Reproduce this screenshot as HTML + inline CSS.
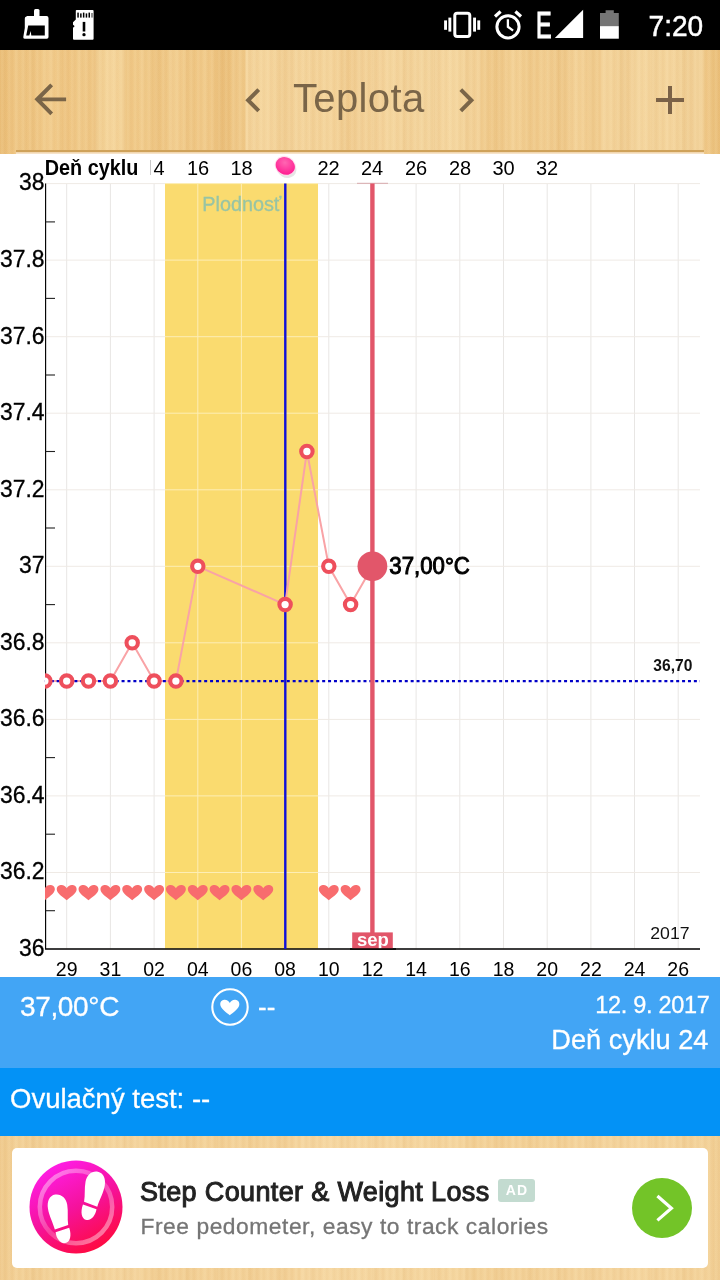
<!DOCTYPE html>
<html lang="sk"><head><meta charset="utf-8"><title>Teplota</title>
<style>
html,body{margin:0;padding:0;}
body{width:720px;height:1280px;position:relative;overflow:hidden;background:#fff;font-family:"Liberation Sans",sans-serif;}
.abs{position:absolute;}
.t{white-space:nowrap;}
.w{-webkit-text-stroke:.3px #fff;}
#status{left:0;top:0;width:720px;height:50px;background:#000;}
.wood{background-color:#f1ca89;background-image:
 repeating-linear-gradient(90deg,rgba(255,240,200,0) 0px,rgba(255,240,200,.13) 2px,rgba(190,135,60,.05) 5px,rgba(255,240,200,0) 7px),
 repeating-linear-gradient(90deg,rgba(200,145,70,.06) 0px,rgba(255,255,255,0) 11px,rgba(255,238,195,.12) 17px,rgba(255,255,255,0) 31px),
 repeating-linear-gradient(90deg,rgba(200,145,70,0) 0px,rgba(200,145,70,.05) 23px,rgba(255,240,200,.08) 41px,rgba(200,145,70,0) 67px),
 linear-gradient(90deg,#ebbe78 0,#eec37f 12px,#f0c785 95px,#f3d093 96px,#f3cf92 125px,#f0c886 126px,#efc582 212px,#ecc07b 228px,#eec37f 245px,#f4d39a 246px,#f3d095 345px,#f2cd91 346px,#f4d49c 420px,#f3d197 480px,#f0c989 481px,#f1cb8d 600px,#f3d197 601px,#f3d299 700px,#edc27e 706px,#eabd76 720px);}
#toolbar{left:0;top:50px;width:720px;height:104px;}
#title{left:0;top:48px;width:717.6px;height:100px;line-height:100px;text-align:center;font-size:40px;letter-spacing:.4px;color:#7a6548;}
#panel1{left:0;top:977px;width:720px;height:91px;background:#42a5f5;color:#fff;}
#panel2{left:0;top:1068px;width:720px;height:68px;background:#0392f6;color:#fff;}
#adwrap{left:0;top:1136px;width:720px;height:144px;background-color:#f3d198;background-image:
 repeating-linear-gradient(90deg,rgba(255,240,200,0) 0px,rgba(255,240,200,.13) 2px,rgba(190,135,60,.05) 5px,rgba(255,240,200,0) 7px),
 repeating-linear-gradient(90deg,rgba(200,145,70,.06) 0px,rgba(255,255,255,0) 11px,rgba(255,238,195,.12) 17px,rgba(255,255,255,0) 31px),
 linear-gradient(90deg,#f1cc90 0,#f2cf96 60px,#f4d39c 140px,#f2ce93 141px,#f3d097 300px,#f5d59f 301px,#f4d39b 470px,#f2ce93 471px,#f3d199 620px,#f5d49d 621px,#f2cf95 720px);}
#card{left:12px;top:1147.6px;width:696px;height:120px;background:#fff;border-radius:5px;}
</style></head><body>
<div id="status" class="abs"></div>
<div id="toolbar" class="abs wood"></div>
<div class="abs" style="left:16px;top:149.5px;width:688px;height:2.2px;background:#cfa25a"></div><div class="abs" style="left:16px;top:151.5px;width:688px;height:2.7px;background:linear-gradient(#efd0a2,#f8e9d6)"></div>
<div id="title" class="abs">Teplota</div>


<svg class="abs" style="left:0;top:0" width="720" height="50" viewBox="0 0 720 50" font-family="Liberation Sans, sans-serif">
<!-- broom -->
<rect x="34" y="9" width="5.5" height="9" rx="1.5" fill="#fff"/>
<path d="M26.5,16 h20 a2,2 0 0 1 2,2 v19.1 a1.7,1.7 0 0 1 -1.7,1.7 h-22 a1.5,1.5 0 0 1 -1.5,-1.8 l1.5,-9 v-9.4 a2,2 0 0 1 2,-2 z" fill="#fff"/>
<path d="M28.2,25.500 H44.800 V35.500 H31.300 L30.700,31 L29.300,35.500 H26.200 Z" fill="#000"/>
<!-- sd card -->
<path d="M76.6,10 H92.600 a1,1 0 0 1 1,1 V38.700 a1,1 0 0 1 -1,1 H74 a1,1 0 0 1 -1,-1 V27.600 l1.300,-0.700 v-1.200 l-1.300,-0.900 V22.200 l2.800,-2.800 V10.800 a0.800,0.800 0 0 1 0.800,-0.800 z" fill="#fff"/>
<g fill="#000"><rect x="77.3" y="12.6" width="1.5" height="5"/><rect x="80.1" y="13.4" width="1.5" height="4.200"/><rect x="82.900" y="12.6" width="1.5" height="5"/><rect x="85.700" y="13.4" width="1.5" height="4.200"/><rect x="88.500" y="12.6" width="1.5" height="5"/><rect x="91.300" y="13" width="1.4" height="4.600" fill="#666"/>
<rect x="82.700" y="21.900" width="2.600" height="9.600"/><circle cx="84" cy="34.700" r="1.650"/></g>
<!-- vibrate -->
<rect x="454.8" y="13.2" width="15" height="23.3" rx="2.4" fill="none" stroke="#fff" stroke-width="3"/>
<g fill="#fff"><rect x="448.4" y="17.6" width="2.9" height="14"/><rect x="444.1" y="20.4" width="2.9" height="9.4"/><rect x="473.1" y="17.6" width="2.9" height="14"/><rect x="477.3" y="20.4" width="2.9" height="9.4"/></g>
<!-- alarm -->
<circle cx="508" cy="26.8" r="11.1" fill="none" stroke="#fff" stroke-width="3"/>
<path d="M507.9,19.200 v7.600 l5.200,3.800" fill="none" stroke="#fff" stroke-width="2.300"/>
<path d="M495,16.400 l5.600,-4.800 M521,16.400 l-5.600,-4.800" fill="none" stroke="#fff" stroke-width="3.300"/>
<!-- E -->
<text x="535.9" y="37.9" font-size="36.5" fill="#fff" stroke="#fff" stroke-width="1.2" textLength="15.6" lengthAdjust="spacingAndGlyphs">E</text>
<!-- signal -->
<path d="M554.8,38.1 L583.1,38.1 L583.1,9.700 Z" fill="#fff"/>
<!-- battery -->
<path d="M605.6,10.200 h8.200 v2.900 h5 v13 h-18.800 v-13 h5.600 z" fill="#757575"/>
<rect x="600" y="26.1" width="18.800" height="12.600" fill="#fff"/>
<text x="648.6" y="36" font-size="29.5" fill="#fff" stroke="#fff" stroke-width="0.5" textLength="54.6" lengthAdjust="spacingAndGlyphs">7:20</text>
</svg>
<svg class="abs" style="left:0;top:50px" width="720" height="104" viewBox="0 50 720 104" fill="#7a6548">
<g transform="translate(26.5,75.6) scale(1.98)"><path d="M20 11H7.83l5.59-5.59L12 4l-8 8 8 8 1.41-1.41L7.83 13H20v-2z"/></g>
<g transform="translate(229.3,76.2) scale(2)"><path d="M15.41 7.41L14 6l-6 6 6 6 1.41-1.41L10.83 12z"/></g>
<g transform="translate(442.2,76.2) scale(2)"><path d="M10 6L8.59 7.41 13.17 12l-4.58 4.59L10 18l6-6z"/></g>
<path d="M656,98 h12 v-12 h4 v12 h12 v4 h-12 v12 h-4 v-12 h-12 z" fill="#7b6247"/>
</svg>

<svg class="abs" style="left:0;top:154px" width="720" height="823" viewBox="0 154 720 823" font-family="Liberation Sans, sans-serif">
<rect x="0" y="154" width="720" height="823" fill="#fff"/>
<line x1="66.7" y1="183.6" x2="66.7" y2="949.0" stroke="#e8e6e4" stroke-width="1"/>
<line x1="110.4" y1="183.6" x2="110.4" y2="949.0" stroke="#e8e6e4" stroke-width="1"/>
<line x1="154.1" y1="183.6" x2="154.1" y2="949.0" stroke="#e8e6e4" stroke-width="1"/>
<line x1="197.8" y1="183.6" x2="197.8" y2="949.0" stroke="#e8e6e4" stroke-width="1"/>
<line x1="241.4" y1="183.6" x2="241.4" y2="949.0" stroke="#e8e6e4" stroke-width="1"/>
<line x1="285.1" y1="183.6" x2="285.1" y2="949.0" stroke="#e8e6e4" stroke-width="1"/>
<line x1="328.8" y1="183.6" x2="328.8" y2="949.0" stroke="#e8e6e4" stroke-width="1"/>
<line x1="372.5" y1="183.6" x2="372.5" y2="949.0" stroke="#e8e6e4" stroke-width="1"/>
<line x1="416.1" y1="183.6" x2="416.1" y2="949.0" stroke="#e8e6e4" stroke-width="1"/>
<line x1="459.8" y1="183.6" x2="459.8" y2="949.0" stroke="#e8e6e4" stroke-width="1"/>
<line x1="503.5" y1="183.6" x2="503.5" y2="949.0" stroke="#e8e6e4" stroke-width="1"/>
<line x1="547.2" y1="183.6" x2="547.2" y2="949.0" stroke="#e8e6e4" stroke-width="1"/>
<line x1="590.9" y1="183.6" x2="590.9" y2="949.0" stroke="#e8e6e4" stroke-width="1"/>
<line x1="634.5" y1="183.6" x2="634.5" y2="949.0" stroke="#e8e6e4" stroke-width="1"/>
<line x1="678.2" y1="183.6" x2="678.2" y2="949.0" stroke="#e8e6e4" stroke-width="1"/>
<line x1="44.87" y1="949.0" x2="700" y2="949.0" stroke="#efeae5" stroke-width="1"/>
<line x1="44.87" y1="872.5" x2="700" y2="872.5" stroke="#efeae5" stroke-width="1"/>
<line x1="44.87" y1="795.9" x2="700" y2="795.9" stroke="#efeae5" stroke-width="1"/>
<line x1="44.87" y1="719.4" x2="700" y2="719.4" stroke="#efeae5" stroke-width="1"/>
<line x1="44.87" y1="642.8" x2="700" y2="642.8" stroke="#efeae5" stroke-width="1"/>
<line x1="44.87" y1="566.3" x2="700" y2="566.3" stroke="#efeae5" stroke-width="1"/>
<line x1="44.87" y1="489.8" x2="700" y2="489.8" stroke="#efeae5" stroke-width="1"/>
<line x1="44.87" y1="413.2" x2="700" y2="413.2" stroke="#efeae5" stroke-width="1"/>
<line x1="44.87" y1="336.7" x2="700" y2="336.7" stroke="#efeae5" stroke-width="1"/>
<line x1="44.87" y1="260.1" x2="700" y2="260.1" stroke="#efeae5" stroke-width="1"/>
<line x1="44.87" y1="183.6" x2="700" y2="183.6" stroke="#efeae5" stroke-width="1"/>
<rect x="165" y="183.6" width="153" height="765.4" fill="#fadb6f"/>
<line x1="197.8" y1="183.6" x2="197.8" y2="949.0" stroke="#fdeeb5" stroke-width="1"/>
<line x1="241.4" y1="183.6" x2="241.4" y2="949.0" stroke="#fdeeb5" stroke-width="1"/>
<line x1="285.1" y1="183.6" x2="285.1" y2="949.0" stroke="#fdeeb5" stroke-width="1"/>
<line x1="165" y1="949.0" x2="318" y2="949.0" stroke="#fdeeb5" stroke-width="1"/>
<line x1="165" y1="872.5" x2="318" y2="872.5" stroke="#fdeeb5" stroke-width="1"/>
<line x1="165" y1="795.9" x2="318" y2="795.9" stroke="#fdeeb5" stroke-width="1"/>
<line x1="165" y1="719.4" x2="318" y2="719.4" stroke="#fdeeb5" stroke-width="1"/>
<line x1="165" y1="642.8" x2="318" y2="642.8" stroke="#fdeeb5" stroke-width="1"/>
<line x1="165" y1="566.3" x2="318" y2="566.3" stroke="#fdeeb5" stroke-width="1"/>
<line x1="165" y1="489.8" x2="318" y2="489.8" stroke="#fdeeb5" stroke-width="1"/>
<line x1="165" y1="413.2" x2="318" y2="413.2" stroke="#fdeeb5" stroke-width="1"/>
<line x1="165" y1="336.7" x2="318" y2="336.7" stroke="#fdeeb5" stroke-width="1"/>
<line x1="165" y1="260.1" x2="318" y2="260.1" stroke="#fdeeb5" stroke-width="1"/>
<line x1="165" y1="183.6" x2="318" y2="183.6" stroke="#fdeeb5" stroke-width="1"/>
<text x="202.3" y="210.5" font-size="19.5" fill="#98c4a4" stroke="#98c4a4" stroke-width="0.3" textLength="79" lengthAdjust="spacingAndGlyphs">Plodnosť</text>
<line x1="45.6" y1="183.6" x2="45.6" y2="949.0" stroke="#000" stroke-width="1.15"/>
<line x1="45" y1="949.0" x2="700" y2="949.0" stroke="#000" stroke-width="1.3"/>
<line x1="45.6" y1="910.7" x2="55" y2="910.7" stroke="#222" stroke-width="1.1"/>
<line x1="45.6" y1="834.2" x2="55" y2="834.2" stroke="#222" stroke-width="1.1"/>
<line x1="45.6" y1="757.6" x2="55" y2="757.6" stroke="#222" stroke-width="1.1"/>
<line x1="45.6" y1="681.1" x2="55" y2="681.1" stroke="#222" stroke-width="1.1"/>
<line x1="45.6" y1="604.6" x2="55" y2="604.6" stroke="#222" stroke-width="1.1"/>
<line x1="45.6" y1="528.0" x2="55" y2="528.0" stroke="#222" stroke-width="1.1"/>
<line x1="45.6" y1="451.5" x2="55" y2="451.5" stroke="#222" stroke-width="1.1"/>
<line x1="45.6" y1="375.0" x2="55" y2="375.0" stroke="#222" stroke-width="1.1"/>
<line x1="45.6" y1="298.4" x2="55" y2="298.4" stroke="#222" stroke-width="1.1"/>
<line x1="45.6" y1="221.9" x2="55" y2="221.9" stroke="#222" stroke-width="1.1"/>
<text x="19.1" y="955.8" font-size="24" fill="#000" stroke="#000" stroke-width="0.3" textLength="25.5" lengthAdjust="spacingAndGlyphs">36</text>
<text x="-0.0" y="879.3" font-size="24" fill="#000" stroke="#000" stroke-width="0.3" textLength="44.6" lengthAdjust="spacingAndGlyphs">36.2</text>
<text x="-0.0" y="802.7" font-size="24" fill="#000" stroke="#000" stroke-width="0.3" textLength="44.6" lengthAdjust="spacingAndGlyphs">36.4</text>
<text x="-0.0" y="726.2" font-size="24" fill="#000" stroke="#000" stroke-width="0.3" textLength="44.6" lengthAdjust="spacingAndGlyphs">36.6</text>
<text x="-0.0" y="649.6" font-size="24" fill="#000" stroke="#000" stroke-width="0.3" textLength="44.6" lengthAdjust="spacingAndGlyphs">36.8</text>
<text x="19.1" y="573.1" font-size="24" fill="#000" stroke="#000" stroke-width="0.3" textLength="25.5" lengthAdjust="spacingAndGlyphs">37</text>
<text x="-0.0" y="496.6" font-size="24" fill="#000" stroke="#000" stroke-width="0.3" textLength="44.6" lengthAdjust="spacingAndGlyphs">37.2</text>
<text x="-0.0" y="420.0" font-size="24" fill="#000" stroke="#000" stroke-width="0.3" textLength="44.6" lengthAdjust="spacingAndGlyphs">37.4</text>
<text x="-0.0" y="343.5" font-size="24" fill="#000" stroke="#000" stroke-width="0.3" textLength="44.6" lengthAdjust="spacingAndGlyphs">37.6</text>
<text x="-0.0" y="266.9" font-size="24" fill="#000" stroke="#000" stroke-width="0.3" textLength="44.6" lengthAdjust="spacingAndGlyphs">37.8</text>
<text x="19.1" y="190.4" font-size="24" fill="#000" stroke="#000" stroke-width="0.3" textLength="25.5" lengthAdjust="spacingAndGlyphs">38</text>
<text x="66.7" y="975.7" font-size="19.5" fill="#000" text-anchor="middle">29</text>
<text x="110.4" y="975.7" font-size="19.5" fill="#000" text-anchor="middle">31</text>
<text x="154.1" y="975.7" font-size="19.5" fill="#000" text-anchor="middle">02</text>
<text x="197.8" y="975.7" font-size="19.5" fill="#000" text-anchor="middle">04</text>
<text x="241.4" y="975.7" font-size="19.5" fill="#000" text-anchor="middle">06</text>
<text x="285.1" y="975.7" font-size="19.5" fill="#000" text-anchor="middle">08</text>
<text x="328.8" y="975.7" font-size="19.5" fill="#000" text-anchor="middle">10</text>
<text x="372.5" y="975.7" font-size="19.5" fill="#000" text-anchor="middle">12</text>
<text x="416.1" y="975.7" font-size="19.5" fill="#000" text-anchor="middle">14</text>
<text x="459.8" y="975.7" font-size="19.5" fill="#000" text-anchor="middle">16</text>
<text x="503.5" y="975.7" font-size="19.5" fill="#000" text-anchor="middle">18</text>
<text x="547.2" y="975.7" font-size="19.5" fill="#000" text-anchor="middle">20</text>
<text x="590.9" y="975.7" font-size="19.5" fill="#000" text-anchor="middle">22</text>
<text x="634.5" y="975.7" font-size="19.5" fill="#000" text-anchor="middle">24</text>
<text x="678.2" y="975.7" font-size="19.5" fill="#000" text-anchor="middle">26</text>
<text x="44.8" y="174.5" font-size="21.8" font-weight="bold" fill="#000" textLength="93.6" lengthAdjust="spacingAndGlyphs">Deň cyklu</text>
<line x1="150.5" y1="160" x2="150.5" y2="175" stroke="#c8c8c8" stroke-width="1"/>
<text x="159" y="174.5" font-size="20" fill="#000" text-anchor="middle">4</text>
<text x="198" y="174.5" font-size="20" fill="#000" text-anchor="middle">16</text>
<text x="241.5" y="174.5" font-size="20" fill="#000" text-anchor="middle">18</text>
<text x="328.5" y="174.5" font-size="20" fill="#000" text-anchor="middle">22</text>
<text x="372" y="174.5" font-size="20" fill="#000" text-anchor="middle">24</text>
<text x="416" y="174.5" font-size="20" fill="#000" text-anchor="middle">26</text>
<text x="460" y="174.5" font-size="20" fill="#000" text-anchor="middle">28</text>
<text x="503.5" y="174.5" font-size="20" fill="#000" text-anchor="middle">30</text>
<text x="547" y="174.5" font-size="20" fill="#000" text-anchor="middle">32</text>
<text x="692.4" y="670.8" font-size="15.6" font-weight="bold" fill="#111" text-anchor="end">36,70</text>
<text x="650.3" y="938.6" font-size="16.5" fill="#111" textLength="39.3" lengthAdjust="spacingAndGlyphs">2017</text>
<line x1="285.3" y1="183.6" x2="285.3" y2="949.0" stroke="#1010d8" stroke-width="2.4"/>
<polyline fill="none" stroke="#f9a3a6" stroke-width="2" points="44.9,681.1 66.7,681.1 88.5,681.1 110.4,681.1 132.2,642.8 154.1,681.1 175.9,681.1 197.8,566.3 285.1,604.6 306.9,451.5 328.8,566.3 350.6,604.6 372.5,566.3"/>
<line x1="44.87" y1="681.1" x2="700" y2="681.1" stroke="#0000c8" stroke-width="2.2" stroke-dasharray="3 2.9"/>
<line x1="357" y1="183.3" x2="388" y2="183.3" stroke="#d8a9ad" stroke-width="1"/>
<line x1="372.4" y1="183.6" x2="372.4" y2="949.0" stroke="#e2566a" stroke-width="4.4"/>
<clipPath id="cc"><rect x="45" y="154" width="680" height="830"/></clipPath>
<g clip-path="url(#cc)">
<circle cx="44.9" cy="681.1" r="5.7" fill="#fff" stroke="#ee4f5c" stroke-width="4.1"/>
<circle cx="66.7" cy="681.1" r="5.7" fill="#fff" stroke="#ee4f5c" stroke-width="4.1"/>
<circle cx="88.5" cy="681.1" r="5.7" fill="#fff" stroke="#ee4f5c" stroke-width="4.1"/>
<circle cx="110.4" cy="681.1" r="5.7" fill="#fff" stroke="#ee4f5c" stroke-width="4.1"/>
<circle cx="132.2" cy="642.8" r="5.7" fill="#fff" stroke="#ee4f5c" stroke-width="4.1"/>
<circle cx="154.1" cy="681.1" r="5.7" fill="#fff" stroke="#ee4f5c" stroke-width="4.1"/>
<circle cx="175.9" cy="681.1" r="5.7" fill="#fff" stroke="#ee4f5c" stroke-width="4.1"/>
<circle cx="197.8" cy="566.3" r="5.7" fill="#fff" stroke="#ee4f5c" stroke-width="4.1"/>
<circle cx="285.1" cy="604.6" r="5.7" fill="#fff" stroke="#ee4f5c" stroke-width="4.1"/>
<circle cx="306.9" cy="451.5" r="5.7" fill="#fff" stroke="#ee4f5c" stroke-width="4.1"/>
<circle cx="328.8" cy="566.3" r="5.7" fill="#fff" stroke="#ee4f5c" stroke-width="4.1"/>
<circle cx="350.6" cy="604.6" r="5.7" fill="#fff" stroke="#ee4f5c" stroke-width="4.1"/>
</g>
<circle cx="372.4" cy="566.3" r="14.9" fill="#e2566a"/>
<text x="389.3" y="573.5" font-size="23" fill="#000" stroke="#000" stroke-width="0.95" textLength="80.6" lengthAdjust="spacingAndGlyphs">37,00°C</text>
<rect x="352.2" y="932.4" width="40.6" height="16.6" fill="#e2566a"/>
<clipPath id="sc"><rect x="340" y="925" width="70" height="23.4"/></clipPath><text x="373" y="946.3" font-size="18.5" font-weight="bold" fill="#fff" text-anchor="middle" clip-path="url(#sc)">sep</text><line x1="350" y1="949" x2="396" y2="949" stroke="#000" stroke-width="1.3"/>
<defs><path id="h" d="M0,7.6 C-2.8,5 -9.95,1 -9.95,-3.4 C-9.95,-6.6 -7.4,-7.7 -5.3,-7.7 C-2.9,-7.7 -0.9,-6.4 0,-4.4 C0.9,-6.4 2.9,-7.7 5.3,-7.7 C7.4,-7.7 9.95,-6.6 9.95,-3.4 C9.95,1 2.8,5 0,7.6 Z"/></defs>
<g clip-path="url(#cc)" fill="#f86c6e">
<use href="#h" x="44.9" y="892.7"/>
<use href="#h" x="66.7" y="892.7"/>
<use href="#h" x="88.5" y="892.7"/>
<use href="#h" x="110.4" y="892.7"/>
<use href="#h" x="132.2" y="892.7"/>
<use href="#h" x="154.1" y="892.7"/>
<use href="#h" x="175.9" y="892.7"/>
<use href="#h" x="197.8" y="892.7"/>
<use href="#h" x="219.6" y="892.7"/>
<use href="#h" x="241.4" y="892.7"/>
<use href="#h" x="263.3" y="892.7"/>
<use href="#h" x="328.8" y="892.7"/>
<use href="#h" x="350.6" y="892.7"/>
</g>
<defs><radialGradient id="pg" cx="0.4" cy="0.35" r="0.7"><stop offset="0" stop-color="#ff66b2"/><stop offset="1" stop-color="#ff1a90"/></radialGradient></defs>
<ellipse cx="286.6" cy="168.6" rx="10.2" ry="9" fill="#d4d4d4" opacity=".6" transform="rotate(30 286.6 168.6)"/><ellipse cx="285.3" cy="165.9" rx="10.9" ry="9.7" fill="#ffd6ea" opacity=".75" transform="rotate(30 285.3 165.9)"/>
<ellipse cx="285.3" cy="165.9" rx="9.9" ry="8.6" fill="url(#pg)" transform="rotate(30 285.3 165.9)"/>
</svg>

<div id="panel1" class="abs"></div>
<div id="panel2" class="abs"></div>
<div class="abs t w" id="t1" style="left:20px;top:990.4px;font-size:28px;letter-spacing:-.35px;line-height:34px;color:#fff;">37,00°C</div>
<svg class="abs" style="left:208.75px;top:985.5px" width="42" height="42" viewBox="-21 -21 42 42"><circle r="17.7" fill="none" stroke="#fff" stroke-width="2.1"/><path transform="translate(-0.2,0.9) scale(0.91)" d="M0,8 C-3,5.5 -10.5,1 -10.5,-4 C-10.5,-8 -7.5,-9 -5.5,-9 C-3,-9 -1,-7.5 0,-5.5 C1,-7.5 3,-9 5.5,-9 C7.5,-9 10.5,-8 10.5,-4 C10.5,1 3,5.5 0,8 Z" fill="#fff"/></svg>
<div class="abs t w" id="t2" style="left:258px;top:990px;font-size:26px;line-height:34px;color:#fff;">--</div>
<div class="abs t w" id="t3" style="right:10.5px;top:987.5px;font-size:23.5px;letter-spacing:-.3px;line-height:34px;color:#fff;text-align:right;">12. 9. 2017</div>
<div class="abs t w" id="t4" style="right:11.5px;top:1023px;font-size:27.2px;line-height:34px;color:#fff;text-align:right;">Deň cyklu 24</div>
<div class="abs t w" id="t5" style="left:10px;top:1082px;font-size:27.5px;line-height:34px;color:#fff;">Ovulačný test: --</div>
<div id="adwrap" class="abs"></div>
<div id="card" class="abs"></div>
<svg class="abs" style="left:25.8px;top:1156.7px" width="100" height="100" viewBox="-50 -50 100 100">
<defs><linearGradient id="ig" x1="0.2" y1="0.05" x2="0.7" y2="1"><stop offset="0" stop-color="#ff1ee8"/><stop offset="0.5" stop-color="#f5129c"/><stop offset="1" stop-color="#ff0a3c"/></linearGradient>
<linearGradient id="rg" x1="0.1" y1="0.1" x2="0.9" y2="0.9"><stop offset="0" stop-color="#fff" stop-opacity=".42"/><stop offset="0.5" stop-color="#fff" stop-opacity=".2"/><stop offset="1" stop-color="#fff" stop-opacity=".45"/></linearGradient>
<g id="foot"><path d="M0.500,-17.500 C6.500,-17.500 9.800,-11.500 9.800,-5 C9.800,3 7,9.500 6.300,17 L-7.600,14.600 C-7.600,8 -9.800,2 -9.800,-5.500 C-9.800,-12.500 -5.500,-17.500 0.500,-17.500 Z M-8.200,17.400 L6,19.800 C6.200,26 3,32 -1.800,32 C-7,32 -9.500,25.500 -8.200,17.400 Z"/></g></defs>
<circle r="46.500" fill="url(#ig)"/>
<circle r="36.200" fill="none" stroke="url(#rg)" stroke-width="4.500"/>
<g fill="#fff">
<use href="#foot" transform="translate(18.200,-18.200) rotate(10.500)"/>
<use href="#foot" transform="translate(-17.600,4.800) rotate(-9) scale(-1,1)"/>
</g></svg>
<div class="abs t" id="t6" style="left:140px;top:1175px;font-size:27px;letter-spacing:.36px;line-height:34px;color:#222;-webkit-text-stroke:1px #222;">Step Counter &amp; Weight Loss</div>
<div class="abs t" id="t7" style="left:140.5px;top:1211px;font-size:22.8px;letter-spacing:.54px;line-height:30px;color:#757575;-webkit-text-stroke:.3px #757575;">Free pedometer, easy to track calories</div>
<div class="abs" id="adb" style="left:498px;top:1179px;width:37px;height:23px;border-radius:3px;background:#c3dbd0;color:#fff;font-size:14px;font-weight:bold;line-height:23px;text-align:center;letter-spacing:1.2px;text-indent:1px;">AD</div>
<svg class="abs" style="left:631px;top:1177px" width="62" height="62" viewBox="-31 -31 62 62"><circle r="30" fill="#73c428"/><path d="M-4.600,-12 L9.400,0.200 L-4.600,12.400" fill="none" stroke="#fff" stroke-width="3.200"/></svg>
</body></html>
